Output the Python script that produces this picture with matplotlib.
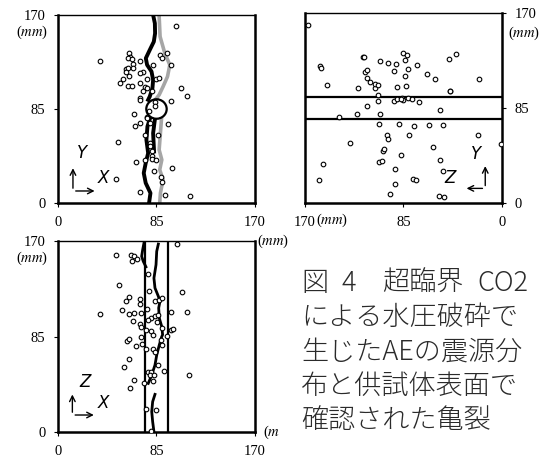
import numpy as np
import matplotlib
matplotlib.use("Agg")
import matplotlib.pyplot as plt
from matplotlib.patches import Circle

plt.rcParams['font.family'] = ['Liberation Serif', 'DejaVu Serif']
plt.rcParams['mathtext.fontset'] = 'stix'

# ---- panel 1 : X-Y plane (AE sources) ----
xy_x = [101.7, 36, 61.4, 62.5, 60.5, 64.3, 64.8, 58.5, 60, 64.8, 59, 61.4, 56.2, 53.9,
        60, 64, 70.6, 75.5, 76.4, 73.5, 71.2, 73.5, 70.6, 76.4, 82.1, 84.2, 87.3, 81.5,
        88.2, 89.7, 94, 97.5, 106.3, 111.5, 97.6, 70.6, 71.2, 83.8, 83.8, 78.4, 77,
        65.4, 76.4, 66.2, 71.2, 79.8, 95.3, 75.5, 86.1, 51.6, 79.3, 79.8, 80.7, 80.7,
        81.5, 75.2, 84.8, 67.7, 83.2, 98.8, 50, 89.3, 89.9, 71.2, 92.5, 113.9]
xy_y = [160.4, 128, 135.4, 132.4, 130.9, 130, 125.8, 121, 122, 122, 118.8, 115, 112,
        108.3, 106, 106, 108.3, 104.7, 103.8, 101.7, 128.5, 118.8, 117.3, 112, 124.9,
        112, 112.6, 101.7, 133.6, 131.5, 135.4, 125.2, 104.1, 97.2, 92.4, 94.8, 93.3,
        90.9, 87.9, 83.6, 78.2, 80.6, 76.7, 69.2, 72.2, 72.8, 71.6, 61.7, 61.7, 54.8,
        54.2, 51.2, 46.6, 42.1, 39.7, 38.5, 38.5, 36.7, 28.9, 31.6, 21.7, 23.2, 18.7,
        9.6, 7.5, 6.6]

# cracks on X-Y face
crk1_top_x = [82.1, 83.6, 83.8, 82.7, 79.2, 75.8, 76.9, 80.7, 82.1, 81.5, 79.2, 77.8]
crk1_top_y = [170, 162.5, 153.5, 145.9, 138.4, 130.9, 124.9, 118.9, 111.3, 103.8, 96.3, 93.3]
crk1_bot_x = [79.2, 77.2, 76.3, 77.8, 75.7, 74, 75.7, 79.8, 78.6]
crk1_bot_y = [75.8, 69.2, 57.2, 45.1, 36.1, 27.1, 18.1, 9, 0]
crk1b_x = [83.5, 82.1, 82.9]
crk1b_y = [74.6, 63.2, 46.6]
crk2_top_x = [87.3, 88.1, 92.2, 96.5, 94.5, 90.7, 87.3, 84.4]
crk2_top_y = [169.1, 150.5, 135.4, 124.9, 114.3, 105.3, 97.8, 93.9]
crk2_bot_x = [89.3, 88.4, 87.3, 89.6, 87.8, 90.7, 88.4, 87.8]
crk2_bot_y = [75.8, 63.2, 48.1, 39.1, 30.1, 21.1, 9, 0]
hole_center = (85, 85)
hole_r = 8.8

# ---- panel 2 : Z-Y plane ----
zy_z = [167.7, 156.7, 156.2, 151.3, 154.2, 157.6, 140.3, 131.1, 125.3, 124.5, 120.2,
        119.3, 118.3, 116.3, 116.3, 114.3, 116.6, 110, 109.2, 106.6, 105.2, 106.9, 106.9,
        105.7, 106.3, 99.4, 98.5, 102.9, 101.4, 106.3, 103.4, 98.5, 93.6, 91.4, 90.8,
        93.6, 88.5, 90.8, 86.2, 85, 82.1, 84.1, 81.2, 83.5, 82.7, 85, 87, 92.2, 96.5,
        92.2, 87, 80.4, 81.2, 77.8, 76.1, 73.5, 71.2, 77.2, 74.6, 64.8, 63.1, 58.2,
        59.6, 53.9, 53.9, 50.7, 51, 54.7, 50.4, 46.1, 44.7, 45.2, 39.5, 21, 19.9, 1.2]
zy_y = [159.6, 122.3, 121.1, 105.3, 35.2, 20.3, 76.9, 53.7, 79.3, 103.2, 130.6, 130.6,
        116.9, 119.3, 112.1, 108.3, 86.5, 103.2, 106.8, 105.3, 127.1, 96.3, 91, 79.3, 71,
        60.5, 57.6, 46.5, 48, 37, 37.3, 125.3, 117.8, 124.7, 103.8, 91, 70.4, 93.4, 94.3,
        134.5, 132.7, 127.6, 120.2, 113.9, 105, 92.4, 93, 30.4, 8.4, 17.3, 42.7, 60.5,
        94.3, 93.4, 68.6, 123.8, 90.1, 21.8, 20.3, 115.4, 70.1, 111.2, 50.2, 83.1, 38.8,
        70.1, 28.4, 6, 5.4, 129.2, 100.5, 100.5, 133.6, 60.5, 111.2, 53.1]
band_lo, band_hi = 75, 95

# ---- panel 3 : X-Z plane ----
xz_x = [102.5, 50.3, 62.9, 65.2, 68.1, 64, 77.8, 52.3, 78.7, 106.8, 61.2, 58.9, 70.4,
        70.9, 84.1, 87.3, 89.6, 76.7, 55.1, 61.2, 65.8, 71.8, 36.5, 97.3, 111.7, 80.1,
        84.1, 85.9, 77.5, 64.6, 70.9, 71.5, 75.8, 85.3, 89.9, 97.3, 99.1, 80.1, 81.6,
        59.4, 61.6, 71.5, 72.1, 66.9, 75.8, 88.7, 90.1, 93.9, 82.4, 84.1, 61.2, 56.6,
        78.1, 80.4, 79, 83, 86.7, 91.9, 113.4, 65.2, 62.3, 73.8, 81.8, 75.8, 84.4, 80.1]
xz_z = [167.6, 157.8, 157.2, 156.4, 154.3, 151.9, 140.9, 131.1, 125.5, 124.6, 120.2,
        116.3, 118.1, 114.2, 116.6, 117.2, 119.3, 109.8, 108.9, 104.7, 105.9, 106.2,
        105.3, 106.8, 106.8, 101.8, 103.3, 103.8, 99.4, 98.5, 95.8, 93.5, 91.1, 97.9,
        92.3, 91.1, 92, 89.9, 86, 81, 83.1, 84.6, 78, 76.2, 74.2, 82.2, 77.1, 85.2, 73.9,
        71.2, 64.7, 57.9, 53.4, 53.4, 51, 50.4, 59.3, 54.3, 50.4, 46, 39.2, 43.9, 45.1,
        20.8, 19.3, 0.9]
crk3a_x = [86.6, 85.2, 84.6, 82.8, 83.7, 86.6, 88, 86.9, 87.4, 89.5, 90.3, 89.5, 87.4,
           85.2, 83.7, 80.9, 77.9]
crk3a_z = [167.3, 160.8, 148.9, 137, 128.2, 120.8, 116.3, 110.4, 101.5, 94, 86.6, 84.8,
           77.4, 68.5, 59.6, 50.7, 43.3]
crk3b_x = [83.7, 81.7, 80.9, 81.7, 82.8]
crk3b_z = [33.5, 27, 18.1, 9.2, 0.3]
crk3c_x = [74.2, 73.1, 72.2, 73.6, 75.9]
crk3c_z = [168.2, 162.3, 156.4, 151.9, 147]

ticks = [0, 85, 170]
tick_fs = 10.5
mk = dict(s=11, facecolors='white', edgecolors='black', linewidths=0.8, zorder=3)

fig = plt.figure(figsize=(5.46, 4.59), dpi=100)
ax1 = fig.add_axes([0.1062, 0.5577, 0.3608, 0.4096])
ax2 = fig.add_axes([0.5586, 0.5577, 0.3608, 0.4140])
ax3 = fig.add_axes([0.1062, 0.0588, 0.3608, 0.4161])


def frame(ax):
    for s in ['left', 'right', 'bottom']:
        ax.spines[s].set_linewidth(1.8)
    ax.spines['top'].set_linewidth(1.0)
    ax.tick_params(direction='out', length=3, width=0.8, labelsize=tick_fs, pad=6)


def axis_arrows(ax, corner, up, side, lab_up, lab_side):
    kw = dict(arrowstyle='->', lw=1.0, color='black', mutation_scale=10)
    ax.annotate('', xy=(corner[0], up), xytext=corner, xycoords='axes fraction',
                arrowprops=kw)
    ax.annotate('', xy=(side, corner[1]), xytext=corner, xycoords='axes fraction',
                arrowprops=kw)
    ax.text(*lab_up[1:], lab_up[0], transform=ax.transAxes, fontsize=12,
            family='DejaVu Sans', style='italic', ha='center', va='center')
    ax.text(*lab_side[1:], lab_side[0], transform=ax.transAxes, fontsize=12,
            family='DejaVu Sans', style='italic', ha='center', va='center')


# panel 1
ax1.plot(crk2_top_x, crk2_top_y, color='#a6a6a6', lw=2.6, zorder=2)
ax1.plot(crk2_bot_x, crk2_bot_y, color='#a6a6a6', lw=2.6, zorder=2)
ax1.plot(crk1_top_x, crk1_top_y, color='black', lw=2.8, zorder=2)
ax1.plot(crk1_bot_x, crk1_bot_y, color='black', lw=2.8, zorder=2)
ax1.plot(crk1b_x, crk1b_y, color='black', lw=2.8, zorder=2)
ax1.add_patch(Circle(hole_center, hole_r, fill=False, ec='black', lw=1.6, zorder=4))
ax1.scatter(xy_x, xy_y, **mk)
ax1.set_xlim(0, 170)
ax1.set_ylim(0, 170)
ax1.set_xticks(ticks)
ax1.set_yticks(ticks)
frame(ax1)
axis_arrows(ax1, (0.076, 0.064), 0.20, 0.20, ('Y', 0.122, 0.266), ('X', 0.233, 0.133))
ax1.text(-0.13, 0.89, '($mm$)', transform=ax1.transAxes, fontsize=tick_fs, ha='center')

# panel 2
ax2.axhline(band_lo, color='black', lw=1.6)
ax2.axhline(band_hi, color='black', lw=1.6)
ax2.scatter(zy_z, zy_y, **mk)
ax2.set_xlim(170, 0)
ax2.set_ylim(0, 170)
ax2.set_xticks(ticks)
ax2.set_yticks(ticks)
ax2.yaxis.tick_right()
frame(ax2)
axis_arrows(ax2, (0.915, 0.077), 0.209, 0.806, ('Y', 0.87, 0.26), ('Z', 0.734, 0.13))
ax2.text(1.03, 0.875, '($mm$)', transform=ax2.transAxes, fontsize=tick_fs, ha='left')
ax2.text(0.055, -0.046, '($mm$)', transform=ax2.transAxes, fontsize=tick_fs, ha='left',
         va='top')

# panel 3
ax3.axvline(band_lo, color='black', lw=1.6)
ax3.axvline(band_hi, color='black', lw=1.6)
ax3.plot(crk3a_x, crk3a_z, color='black', lw=2.0, zorder=2)
ax3.plot(crk3b_x, crk3b_z, color='black', lw=2.0, zorder=2)
ax3.plot(crk3c_x, crk3c_z, color='black', lw=2.0, zorder=2)
ax3.scatter(xz_x, xz_z, **mk)
ax3.set_xlim(0, 170)
ax3.set_ylim(0, 170)
ax3.set_xticks(ticks)
ax3.set_yticks(ticks)
frame(ax3)
axis_arrows(ax3, (0.073, 0.089), 0.211, 0.196, ('Z', 0.137, 0.263), ('X', 0.233, 0.153))
ax3.text(-0.13, 0.89, '($mm$)', transform=ax3.transAxes, fontsize=tick_fs, ha='center')
ax3.text(1.01, 1.0, '($mm$)', transform=ax3.transAxes, fontsize=tick_fs, ha='left',
         va='center')
ax3.text(1.04, 0.0, '($m$', transform=ax3.transAxes, fontsize=tick_fs, ha='left',
         va='center')

# caption (first line laid out piece by piece, half-width glyphs are 0.5 em)
cap_font = dict(fontsize=19.5, family=['Noto Sans CJK JP', 'DejaVu Sans'],
                va='center', ha='left', color='#2a2a2a', fontweight='light')
em = 27.2 / 546
x0 = 301 / 546
y1 = 1 - 283 / 459
first_line = [('図', 0.0), ('4', 1.5), ('超臨界', 3.0), ('CO2', 6.5)]
for piece, off in first_line:
    fig.text(x0 + off * em, y1, piece, **cap_font)
caption = ['による水圧破砕で', '生じたAEの震源分', '布と供試体表面で', '確認された亀裂']
for i, line in enumerate(caption):
    fig.text(x0, 1 - (283 + 34.3 * (i + 1)) / 459, line, **cap_font)

fig.savefig('out.png', dpi=100)
